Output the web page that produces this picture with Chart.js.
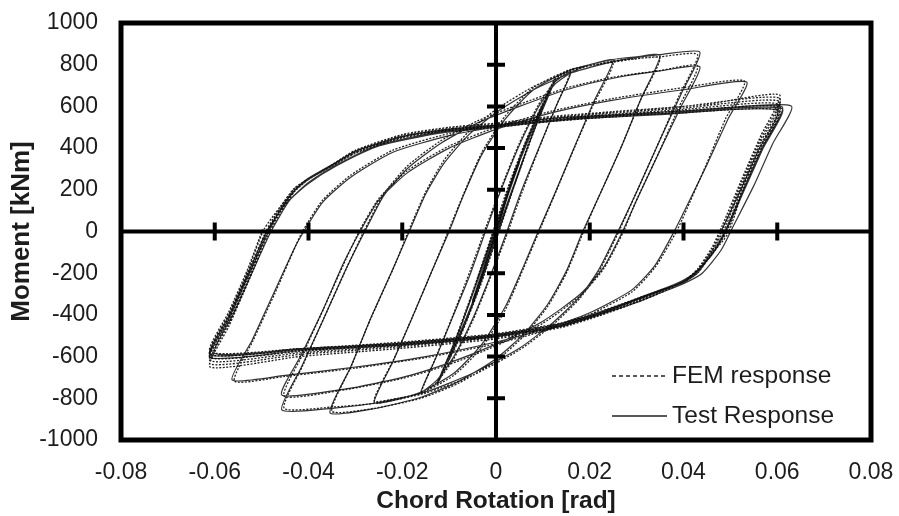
<!DOCTYPE html>
<html>
<head>
<meta charset="utf-8">
<title>Moment - Chord Rotation</title>
<script src="https://cdn.jsdelivr.net/npm/chart.js@4.4.1/dist/chart.umd.min.js"></script>
<style>
    html, body { margin: 0; padding: 0; background: #fff; }
    #box { width: 899px; height: 516px; }
</style>
</head>
<body>
<div id="box"><canvas id="grafico" width="899" height="516"></canvas></div>
<script>
// eixos
const xTicks = [-0.08, -0.06, -0.04, -0.02, 0, 0.02, 0.04, 0.06, 0.08]
const xTickLabels = ["-0.08", "-0.06", "-0.04", "-0.02", "0", "0.02", "0.04", "0.06", "0.08"]
const yTicks = [-1000, -800, -600, -400, -200, 0, 200, 400, 600, 800, 1000]
const yTickLabels = ["-1000", "-800", "-600", "-400", "-200", "0", "200", "400", "600", "800", "1000"]

// ensaio (Test Response), ciclos [rotacao, momento]
const test005 = [[0,0],[0.0025,170],[0.005,330],[0.003,210],[0,5],[-0.0025,-170],[-0.005,-330],[-0.003,-210],[0,-5],[0.0025,170],[0.005,335],[0.003,215],[0,10],[-0.0025,-165],[-0.005,-330],[-0.003,-205],[0,10]]
const test010 = [[0.003,210],[0.006,400],[0.008,510],[0.010,600],[0.0075,450],[0.004,230],[0.001,30],[-0.003,-230],[-0.006,-410],[-0.008,-515],[-0.010,-605],[-0.0075,-455],[-0.004,-235],[-0.001,-35],[0.003,225],[0.006,405],[0.0085,535],[0.010,605]]
const test0125 = [[0.0125,720],[0.0095,560],[0.006,360],[0.002,110],[-0.001,-80],[-0.004,-280],[-0.007,-450],[-0.0095,-580],[-0.0125,-725],[-0.0095,-565],[-0.006,-365],[-0.002,-115],[0.001,75],[0.004,275],[0.007,445],[0.0095,575],[0.0125,715]]
const test016 = [[0.016,765],[0.013,610],[0.0095,420],[0.0055,200],[0.002,-20],[-0.001,-200],[-0.005,-420],[-0.009,-600],[-0.0125,-710],[-0.016,-770],[-0.013,-615],[-0.0095,-425],[-0.0055,-205],[-0.002,15],[0.001,195],[0.005,415],[0.009,595],[0.0125,705],[0.016,762]]
const test025 = [[0.020,800],[0.025,822],[0.021,630],[0.017,420],[0.0125,180],[0.009,0],[0.006,-160],[0.002,-360],[-0.003,-540],[-0.009,-680],[-0.016,-770],[-0.021,-805],[-0.026,-820],[-0.022,-625],[-0.018,-420],[-0.0135,-180],[-0.010,0],[-0.007,170],[-0.003,370],[0.002,540],[0.008,680],[0.016,775],[0.025,825]]
const test035 = [[0.030,838],[0.035,845],[0.031,640],[0.027,420],[0.022,170],[0.0185,0],[0.015,-190],[0.011,-350],[0.006,-490],[0,-610],[-0.008,-720],[-0.016,-795],[-0.026,-850],[-0.0354,-870],[-0.031,-650],[-0.027,-430],[-0.022,-180],[-0.0185,0],[-0.015,180],[-0.011,330],[-0.006,460],[0,570],[0.008,680],[0.016,760],[0.025,815],[0.035,848]]
const test044a = [[0.0435,860],[0.0395,660],[0.035,440],[0.030,190],[0.026,0],[0.022,-180],[0.018,-310],[0.012,-440],[0.005,-560],[-0.005,-680],[-0.015,-770],[-0.025,-820],[-0.035,-848],[-0.0457,-856],[-0.0415,-650],[-0.037,-430],[-0.032,-180],[-0.028,0],[-0.024,170],[-0.019,300],[-0.012,420],[-0.004,520],[0.005,600],[0.015,680],[0.025,735],[0.035,770],[0.0435,790]]
const test044b = [[0.0395,600],[0.035,390],[0.030,150],[0.027,0],[0.023,-170],[0.018,-300],[0.010,-430],[0,-540],[-0.010,-630],[-0.020,-700],[-0.032,-755],[-0.0457,-784],[-0.0415,-590],[-0.037,-380],[-0.0325,-150],[-0.029,0],[-0.025,150],[-0.019,280],[-0.010,400],[0,490],[0.012,570],[0.025,630],[0.040,680],[0.0535,717]]
const test055 = [[0.0495,540],[0.045,320],[0.040,90],[0.038,0],[0.034,-160],[0.029,-280],[0.020,-390],[0.010,-470],[0,-530],[-0.015,-600],[-0.030,-650],[-0.045,-690],[-0.0563,-712],[-0.052,-520],[-0.0475,-300],[-0.043,-80],[-0.041,0],[-0.037,140],[-0.031,260],[-0.022,380],[-0.010,460],[0,500],[0.015,540],[0.030,565],[0.045,585],[0.063,602]]
const test060a = [[0.059,420],[0.055,220],[0.0505,20],[0.048,-90],[0.044,-200],[0.040,-250],[0.035,-295],[0.030,-340],[0.022,-400],[0.014,-455],[0,-505],[-0.020,-545],[-0.042,-572],[-0.061,-605],[-0.057,-420],[-0.053,-220],[-0.0485,0],[-0.045,140],[-0.041,240],[-0.035,320],[-0.030,385],[-0.020,455],[-0.010,490],[0,510],[0.012,543],[0.025,560],[0.040,578],[0.061,598]]
const test060b = [[0.057,410],[0.053,210],[0.049,10],[0.046,-110],[0.042,-210],[0.038,-260],[0.032,-310],[0.022,-395],[0.012,-460],[0,-500],[-0.020,-540],[-0.042,-566],[-0.061,-592],[-0.057,-405],[-0.053,-205],[-0.049,-5],[-0.045,130],[-0.040,235],[-0.034,320],[-0.025,415],[-0.012,478],[0,505],[0.015,540],[0.035,565],[0.061,590]]
const test060c = [[0.057,400],[0.053,200],[0.049,0],[0.046,-115],[0.042,-205],[0.038,-255],[0.032,-305],[0.022,-390],[0.012,-452],[0,-495],[-0.020,-535],[-0.042,-562],[-0.060,-585],[-0.056,-395],[-0.052,-195],[-0.048,0],[-0.044,150],[-0.040,230],[-0.034,315],[-0.025,410],[-0.012,472],[0,500],[0.015,535],[0.035,560],[0.060,582],[0.056,390],[0.052,190],[0.048,0]]

// modelo (FEM response)
const fem005 = [[0,0],[0.0025,180],[0.005,340],[0.0028,200],[0,-10],[-0.0025,-180],[-0.005,-340],[-0.0028,-200],[0,10],[0.0025,180],[0.005,340],[0.0028,200],[0,-5],[-0.0025,-175],[-0.005,-338],[-0.0028,-198],[0,8]]
const fem010 = [[0.003,220],[0.006,410],[0.008,520],[0.010,615],[0.0072,440],[0.004,225],[0.0005,-10],[-0.003,-240],[-0.006,-415],[-0.008,-525],[-0.010,-615],[-0.0072,-440],[-0.004,-225],[-0.0005,10],[0.003,240],[0.006,415],[0.0085,545],[0.010,612]]
const fem0125 = [[0.0125,730],[0.0093,555],[0.006,350],[0.002,100],[-0.001,-90],[-0.004,-290],[-0.007,-460],[-0.0095,-590],[-0.0125,-732],[-0.0093,-555],[-0.006,-352],[-0.002,-102],[0.001,88],[0.004,288],[0.007,458],[0.0095,588],[0.0125,728]]
const fem016 = [[0.016,775],[0.0128,600],[0.0093,405],[0.0055,185],[0.002,-35],[-0.001,-210],[-0.005,-430],[-0.009,-610],[-0.0125,-720],[-0.016,-778],[-0.0128,-602],[-0.0093,-408],[-0.0055,-188],[-0.002,30],[0.001,205],[0.005,425],[0.009,605],[0.0125,718],[0.016,776]]
const fem025 = [[0.020,795],[0.025,808],[0.0208,610],[0.0168,405],[0.0123,165],[0.0092,0],[0.006,-170],[0.002,-375],[-0.003,-555],[-0.009,-690],[-0.016,-775],[-0.021,-800],[-0.026,-812],[-0.0218,-612],[-0.0178,-408],[-0.0133,-170],[-0.0102,0],[-0.007,175],[-0.003,380],[0.002,555],[0.008,690],[0.016,778],[0.025,812]]
const fem035 = [[0.030,828],[0.035,832],[0.0308,628],[0.0268,410],[0.0218,160],[0.0187,0],[0.015,-200],[0.011,-360],[0.006,-500],[0,-620],[-0.008,-728],[-0.016,-800],[-0.026,-848],[-0.035,-862],[-0.0308,-642],[-0.0268,-422],[-0.0218,-172],[-0.0187,0],[-0.015,190],[-0.011,345],[-0.006,475],[0,585],[0.008,695],[0.016,770],[0.025,818],[0.035,838]]
const fem044a = [[0.043,848],[0.039,648],[0.0348,432],[0.0298,180],[0.0262,0],[0.022,-190],[0.018,-318],[0.012,-450],[0.005,-568],[-0.005,-690],[-0.015,-775],[-0.025,-822],[-0.035,-842],[-0.0452,-848],[-0.0412,-642],[-0.0368,-420],[-0.0318,-172],[-0.0282,0],[-0.024,178],[-0.019,312],[-0.012,432],[-0.004,530],[0.005,610],[0.015,688],[0.025,740],[0.035,772],[0.043,795]]
const fem044b = [[0.039,596],[0.0348,382],[0.0298,142],[0.0272,0],[0.023,-178],[0.018,-308],[0.010,-440],[0,-548],[-0.010,-638],[-0.020,-705],[-0.032,-758],[-0.0452,-790],[-0.0412,-588],[-0.0368,-372],[-0.0322,-142],[-0.0292,0],[-0.025,158],[-0.019,290],[-0.010,410],[0,500],[0.012,578],[0.025,638],[0.040,690],[0.053,722]]
const fem055 = [[0.049,542],[0.0448,318],[0.0402,82],[0.0385,0],[0.034,-170],[0.029,-290],[0.020,-398],[0.010,-478],[0,-538],[-0.015,-605],[-0.030,-655],[-0.045,-695],[-0.0558,-718],[-0.0518,-522],[-0.0472,-298],[-0.0428,-72],[-0.0413,0],[-0.037,150],[-0.031,270],[-0.022,390],[-0.010,470],[0,510],[0.015,552],[0.030,580],[0.045,610],[0.0605,655]]
const fem060a = [[0.0565,460],[0.0525,255],[0.0483,30],[0.046,-80],[0.043,-180],[0.040,-240],[0.035,-295],[0.030,-340],[0.022,-405],[0.014,-460],[0,-515],[-0.020,-560],[-0.042,-600],[-0.061,-650],[-0.057,-455],[-0.053,-250],[-0.0488,-25],[-0.046,90],[-0.043,190],[-0.040,250],[-0.035,320],[-0.030,390],[-0.020,465],[-0.010,500],[0,520],[0.012,552],[0.025,575],[0.040,600],[0.0605,640]]
const fem060b = [[0.0565,445],[0.0525,240],[0.0485,20],[0.046,-90],[0.043,-185],[0.040,-240],[0.035,-290],[0.030,-335],[0.022,-400],[0.014,-455],[0,-508],[-0.020,-552],[-0.042,-590],[-0.061,-635],[-0.057,-440],[-0.053,-238],[-0.049,-15],[-0.046,100],[-0.043,195],[-0.040,250],[-0.035,318],[-0.030,386],[-0.020,460],[-0.010,496],[0,515],[0.012,546],[0.025,568],[0.040,592],[0.0605,625]]
const fem060c = [[0.0565,430],[0.0525,225],[0.0487,10],[0.046,-95],[0.043,-190],[0.040,-240],[0.035,-288],[0.030,-330],[0.022,-396],[0.014,-450],[0,-502],[-0.020,-546],[-0.042,-582],[-0.061,-620],[-0.057,-425],[-0.053,-222],[-0.049,-5],[-0.046,108],[-0.043,200],[-0.040,250],[-0.035,316],[-0.030,382],[-0.020,456],[-0.010,492],[0,510],[0.012,540],[0.025,562],[0.040,585],[0.0605,610]]
const fem060d = [[0.0565,415],[0.0525,210],[0.049,0],[0.046,-100],[0.043,-195],[0.040,-242],[0.035,-286],[0.030,-328],[0.022,-392],[0.014,-446],[0,-498],[-0.020,-540],[-0.042,-575],[-0.061,-605],[-0.057,-410],[-0.053,-207],[-0.049,5],[-0.046,115],[-0.043,205],[-0.040,250],[-0.035,314],[-0.030,378],[-0.020,452],[-0.010,488],[0,505],[0.012,534],[0.025,556],[0.040,578],[0.0605,595]]
const fem060e = [[0.0565,400],[0.0525,195],[0.0492,-5],[0.046,-105],[0.043,-198],[0.040,-244],[0.035,-284],[0.030,-325],[0.022,-388],[0.014,-442],[0,-494],[-0.020,-535],[-0.042,-568],[-0.061,-590],[-0.057,-396],[-0.053,-193],[-0.0495,10],[-0.046,120],[-0.043,208],[-0.040,252],[-0.035,312],[-0.030,375],[-0.020,448],[-0.010,484],[0,500],[0.012,528],[0.025,550],[0.040,570],[0.0605,580]]
const fem060f = [[0.0565,390],[0.0525,185],[0.0495,-10],[0.046,-110],[0.043,-200],[0.040,-245],[0.035,-282],[0.030,-322],[0.022,-385],[0.014,-438],[0,-490],[-0.020,-530],[-0.042,-562],[-0.061,-578],[-0.057,-385],[-0.053,-182],[-0.0497,15]]

const testCycles = [test005, test010, test0125, test016, test025, test035, test044a, test044b, test055, test060a, test060b, test060c]
const femCycles = [fem005, fem010, fem0125, fem016, fem025, fem035, fem044a, fem044b, fem055, fem060a, fem060b, fem060c, fem060d, fem060e, fem060f]

function pontos(ciclos){
    return ciclos.flat().map(p => ({ x: p[0], y: p[1] }))
}

const FONTE = "'Liberation Sans', Arial, sans-serif"
const COR_TEXTO = "#1c1c1c"

// moldura, eixos zero com marcas e legenda
const eixosPlugin = {
    id: "eixos",
    afterDatasetsDraw(chart){
        const ctx = chart.ctx
        const a = chart.chartArea
        const sx = chart.scales.x
        const sy = chart.scales.y
        const x0 = sx.getPixelForValue(0)
        const y0 = sy.getPixelForValue(0)

        ctx.save()
        ctx.strokeStyle = "#000"
        ctx.lineCap = "butt"

        ctx.lineWidth = 4
        ctx.beginPath()
        ctx.moveTo(a.left, y0)
        ctx.lineTo(a.right, y0)
        ctx.moveTo(x0, a.top)
        ctx.lineTo(x0, a.bottom)
        ctx.stroke()

        ctx.beginPath()
        xTicks.forEach(v => {
            if(v === 0 || v === sx.min || v === sx.max){
                return
            }
            const px = sx.getPixelForValue(v)
            ctx.moveTo(px, y0 - 9)
            ctx.lineTo(px, y0 + 9)
        })
        yTicks.forEach(v => {
            if(v === 0 || v === sy.min || v === sy.max){
                return
            }
            const py = sy.getPixelForValue(v)
            ctx.moveTo(x0 - 9, py)
            ctx.lineTo(x0 + 9, py)
        })
        ctx.stroke()

        ctx.lineWidth = 5
        ctx.strokeRect(a.left, a.top, a.right - a.left, a.bottom - a.top)

        // legenda
        ctx.font = "24.5px " + FONTE
        ctx.fillStyle = COR_TEXTO
        ctx.textBaseline = "middle"
        ctx.textAlign = "left"
        const linhas = [
            { ds: chart.data.datasets[0], y: 376 },
            { ds: chart.data.datasets[1], y: 416 }
        ]
        linhas.forEach(l => {
            ctx.lineWidth = 1.3
            ctx.strokeStyle = "#222"
            ctx.setLineDash(l.ds.legendDash)
            ctx.beginPath()
            ctx.moveTo(612, l.y)
            ctx.lineTo(667, l.y)
            ctx.stroke()
            ctx.setLineDash([])
            ctx.fillText(l.ds.label, 672, l.y)
        })
        ctx.restore()
    }
}

new Chart(document.getElementById("grafico"), {
    type: "scatter",
    data: {
        datasets: [
            {
                label: "FEM response",
                data: pontos(femCycles),
                showLine: true,
                borderColor: "rgba(10,10,10,0.9)",
                borderWidth: 1.3,
                borderDash: [2, 1.5],
                legendDash: [4, 3],
                pointRadius: 0,
                tension: 0.2
            },
            {
                label: "Test Response",
                data: pontos(testCycles),
                showLine: true,
                borderColor: "rgba(30,30,30,0.9)",
                borderWidth: 1.2,
                legendDash: [],
                pointRadius: 0,
                tension: 0.2
            }
        ]
    },
    options: {
        responsive: false,
        animation: false,
        devicePixelRatio: 1,
        layout: { padding: { top: 23, right: 28, left: 0, bottom: 0 } },
        plugins: {
            legend: { display: false },
            tooltip: { enabled: false }
        },
        scales: {
            x: {
                type: "linear",
                min: -0.08,
                max: 0.08,
                afterBuildTicks: s => { s.ticks = xTicks.map(v => ({ value: v })) },
                afterFit: s => {
                    s.height = 76
                    s.paddingLeft = 0
                    s.paddingRight = 0
                },
                grid: { display: false, drawTicks: false },
                border: { display: false },
                ticks: {
                    padding: 19,
                    color: COR_TEXTO,
                    font: { family: FONTE, size: 23 },
                    callback: (v, i) => xTickLabels[i]
                },
                title: {
                    display: true,
                    text: "Chord Rotation [rad]",
                    color: COR_TEXTO,
                    font: { family: FONTE, size: 24.5, weight: "bold" },
                    padding: { top: 0, bottom: 0 }
                }
            },
            y: {
                type: "linear",
                min: -1000,
                max: 1000,
                afterBuildTicks: s => { s.ticks = yTicks.map(v => ({ value: v })) },
                afterFit: s => {
                    s.width = 121
                    s.paddingTop = 0
                    s.paddingBottom = 0
                },
                grid: { display: false, drawTicks: false },
                border: { display: false },
                ticks: {
                    padding: 23,
                    color: COR_TEXTO,
                    font: { family: FONTE, size: 23 },
                    callback: (v, i) => yTickLabels[i]
                },
                title: {
                    display: true,
                    text: "Moment [kNm]",
                    color: COR_TEXTO,
                    font: { family: FONTE, size: 26, weight: "bold" },
                    padding: { top: 6, bottom: 0 }
                }
            }
        }
    },
    plugins: [eixosPlugin]
})
</script>
</body>
</html>
